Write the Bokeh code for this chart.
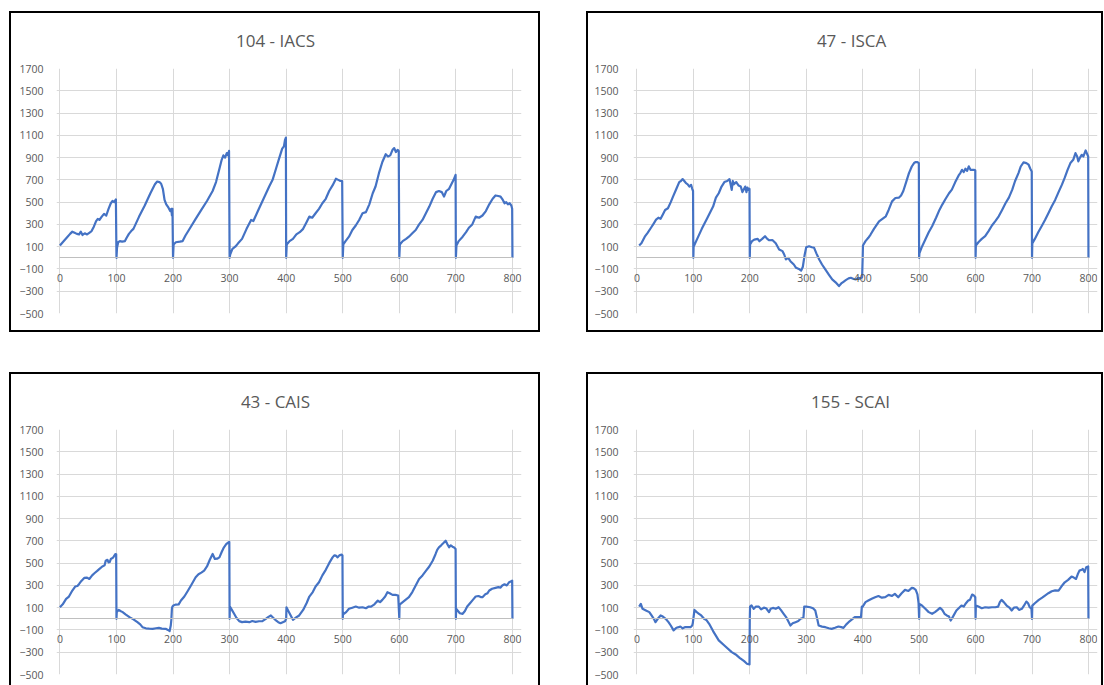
from bokeh.plotting import figure
from bokeh.models import Range1d
from bokeh.layouts import column, row
from bokeh.embed import file_html
from bokeh.resources import INLINE

# Axis ticks shared by all four panels
X_TICKS = [0, 100, 200, 300, 400, 500, 600, 700, 800]
Y_TICKS = [-500, -300, -100, 100, 300, 500, 700, 900, 1100, 1300, 1500, 1700]

TITLES = ["104 - IACS", "47 - ISCA", "43 - CAIS", "155 - SCAI"]

# 104 - IACS
iacs_x = [0, 5, 12, 18, 22, 26, 30, 34, 37, 40, 44, 48, 52, 56, 60, 64, 67, 70, 74, 78, 82, 86, 90, 93, 96, 99, 100,
          101, 103, 106, 110, 115, 118, 122, 126, 130, 140, 150, 160, 168, 172, 176, 179, 182, 185, 188, 192, 195, 197, 198, 199, 200,
          201, 205, 212, 217, 222, 228, 240, 250, 260, 270, 276, 282, 286, 289, 292, 295, 297, 299, 300,
          301, 305, 310, 315, 322, 330, 338, 342, 350, 360, 370, 376, 382, 388, 393, 396, 398, 399.5, 400,
          401, 406, 412, 418, 424, 430, 436, 441, 446, 452, 458, 464, 470, 476, 482, 488, 492, 496, 499, 500,
          501, 505, 511, 517, 523, 529, 535, 541, 547, 553, 558, 564, 570, 576, 580, 584, 588, 591, 594, 597, 599, 600,
          601, 606, 612, 617, 623, 629, 635, 641, 647, 653, 659, 665, 670, 675, 679, 683, 688, 692, 696, 699.5, 700,
          701, 705, 712, 718, 723, 729, 735, 741, 747, 753, 759, 765, 770, 775, 779, 783, 786, 789, 792, 795, 798, 799.5, 800]
iacs_y = [110, 140, 180, 215, 235, 225, 215, 210, 235, 205, 220, 210, 225, 240, 280, 330, 350, 340, 370, 395, 380, 440, 490, 510, 500, 525, 0,
          90, 140, 150, 145, 150, 180, 215, 240, 260, 370, 470, 580, 660, 685, 680, 665, 620, 520, 480, 450, 420, 440, 380, 440, 0,
          120, 140, 145, 150, 200, 250, 350, 430, 510, 600, 680, 800, 880, 920, 900, 940, 920, 960, 0,
          30, 80, 100, 130, 170, 260, 340, 330, 420, 530, 640, 700, 800, 900, 980, 1000, 1060, 1080, 0,
          120, 150, 170, 210, 230, 260, 320, 370, 360, 400, 440, 490, 530, 600, 650, 710, 700, 690, 690, 0,
          120, 150, 190, 250, 290, 340, 400, 410, 480, 580, 640, 760, 860, 930, 910, 920, 970, 985, 950, 970, 960, 0,
          120, 150, 170, 190, 220, 250, 300, 340, 400, 460, 530, 590, 600, 590, 550, 600, 620, 660, 700, 745, 0,
          110, 150, 190, 230, 270, 300, 370, 360, 380, 420, 480, 530, 560, 555, 550, 520, 490, 500, 480, 490, 470, 440, 0]

# 47 - ISCA
isca_x = [4, 8, 14, 19, 25, 30, 34, 38, 42, 46, 50, 55, 60, 64, 70, 75, 78, 81, 84, 87, 90, 93, 96, 98, 99.5, 100,
          100.5, 105, 115, 125, 135, 140, 145, 150, 155, 160, 164, 166, 168, 170, 172, 176, 180, 184, 187, 190, 192, 194, 196, 198, 199.5, 200,
          200.5, 204, 208, 214, 217, 222, 227, 231, 234, 240, 246, 252, 258, 261, 264, 268, 272, 278, 282, 287, 291, 294, 297, 300,
          305, 310, 314, 318, 323, 328, 332, 340, 346, 352, 358, 362, 366, 370, 375, 379, 384, 388, 392, 396, 399, 400,
          400.5, 405, 410, 414, 420, 429, 435, 441, 446, 452, 458, 464, 468, 472, 477, 482, 487, 491, 494, 497, 499.5, 500,
          500.5, 505, 511, 517, 523, 530, 536, 541, 547, 553, 558, 564, 570, 573, 576, 579, 582, 585, 588, 591, 594, 597, 599.5, 600,
          600.5, 605, 611, 617, 623, 629, 635, 641, 647, 653, 659, 665, 670, 676, 680, 685, 690, 694, 697, 699.5, 700,
          700.5, 705, 711, 717, 723, 729, 735, 741, 747, 753, 758, 763, 768, 773, 777, 780, 782, 785, 788, 791, 795, 797, 799.5, 800]
isca_y = [110, 130, 190, 224, 270, 310, 343, 360, 350, 390, 430, 445, 500, 550, 620, 680, 690, 707, 690, 670, 660, 640, 655, 620, 600, 0,
          100, 150, 260, 360, 460, 540, 580, 640, 680, 690, 707, 660, 610, 690, 660, 680, 650, 640, 590, 620, 640, 590, 630, 610, 620, 0,
          120, 150, 164, 170, 149, 170, 194, 170, 158, 160, 130, 75, 60, 30, -15, 0, -30, -60, -90, -100, -115, -80, 20, 95,
          104, 95, 90, 40, -15, -60, -90, -150, -194, -220, -254, -230, -215, -200, -185, -179, -190, -194, -180, -185, -175, 0,
          110, 150, 180, 209, 260, 328, 350, 373, 430, 507, 537, 540, 560, 600, 680, 761, 820, 851, 860, 860, 850, 0,
          40, 100, 164, 230, 284, 360, 430, 478, 530, 580, 612, 680, 740, 761, 790, 770, 800, 780, 821, 790, 791, 790, 785, 0,
          110, 140, 170, 194, 240, 290, 330, 373, 430, 490, 540, 612, 690, 761, 820, 857, 850, 836, 800, 776, 0,
          130, 170, 230, 284, 340, 400, 463, 520, 590, 657, 720, 790, 851, 880, 940, 910, 866, 900, 925, 910, 964, 940, 910, 0]

# 43 - CAIS
cais_x = [0, 5, 11, 16, 22, 27, 31, 34, 38, 43, 48, 52, 57, 61, 66, 70, 75, 79, 81, 84, 86, 88, 90, 94, 98, 99.5, 100,
          100.5, 104, 107, 111, 116, 123, 130, 137, 142, 146, 152, 158, 164, 170, 175, 180, 187, 191, 194, 196, 197, 198, 199, 200,
          200.5, 205, 210, 214, 220, 226, 233, 240, 245, 250, 255, 260, 265, 270, 272, 274, 278, 282, 286, 290, 294, 298, 299.5, 300,
          300.5, 304, 308, 312, 317, 322, 328, 335, 340, 346, 352, 358, 364, 368, 373, 377, 382, 386, 390, 394, 398, 400,
          400.5, 405, 408, 412, 417, 423, 430, 436, 441, 447, 452, 458, 464, 470, 476, 482, 485, 488, 491, 494, 498, 499.5, 500,
          500.5, 502, 506, 511, 517, 523, 529, 535, 541, 546, 550, 556, 562, 566, 570, 575, 579, 583, 588, 593, 598, 600,
          600.5, 606, 612, 617, 623, 629, 635, 641, 647, 653, 659, 664, 667, 670, 674, 678, 682, 685, 688, 691, 694, 697, 699.5, 700,
          700.5, 703, 707, 712, 716, 720, 725, 730, 735, 740, 744, 747, 752, 756, 759, 764, 770, 775, 779, 782, 786, 790, 794, 797, 799.5, 800]
cais_y = [104, 130, 179, 200, 254, 290, 295, 313, 340, 367, 370, 358, 390, 409, 430, 448, 470, 480, 522, 530, 507, 510, 537, 550, 582, 580, 0,
          60, 80, 70, 60, 40, 15, -5, -30, -50, -75, -85, -88, -90, -85, -81, -88, -90, -100, -110, -60, -10, 90, 110, 115,
          120, 128, 130, 164, 200, 250, 310, 373, 400, 415, 433, 470, 530, 582, 560, 537, 540, 552, 600, 642, 670, 687, 690, 0,
          110, 80, 45, 10, -21, -30, -25, -30, -20, -28, -22, -21, 0, 15, 30, 10, -15, -30, -39, -30, -21, 0,
          104, 60, 30, -9, 10, 30, 80, 140, 200, 240, 290, 328, 390, 440, 500, 552, 570, 567, 552, 570, 576, 570, 0,
          60, 45, 60, 90, 100, 110, 100, 104, 95, 110, 110, 130, 164, 150, 170, 200, 239, 230, 215, 215, 209, 0,
          128, 150, 175, 194, 240, 300, 358, 390, 430, 470, 522, 580, 620, 642, 660, 680, 701, 670, 642, 660, 648, 640, 627, 0,
          90, 75, 50, 45, 70, 110, 140, 170, 200, 205, 195, 194, 220, 230, 254, 270, 278, 285, 280, 299, 310, 300, 328, 335, 343, 0]

# 155 - SCAI
scai_x = [4, 7, 10, 16, 22, 26, 30, 33, 37, 42, 46, 51, 56, 60, 65, 70, 74, 77, 81, 85, 89, 95, 98, 99,
          102, 106, 110, 114, 119, 123, 128, 135, 145, 155, 168, 175, 182, 190, 195, 199.5, 200,
          200.5, 203, 207, 211, 216, 220, 225, 229, 234, 237, 241, 246, 251, 255, 260, 265, 270, 272, 276, 281, 286, 290, 295, 296.5,
          300, 307, 312, 316, 319, 322, 328, 334, 340, 345, 351, 357, 362, 366, 371, 375, 380, 386, 392, 397, 398.5,
          400, 405, 410, 416, 422, 428, 434, 440, 446, 452, 457, 463, 469, 475, 481, 487, 490, 494, 497, 499, 500,
          500.5, 505, 511, 517, 523, 528, 533, 537, 541, 545, 549, 553, 556, 560, 566, 571, 575, 579, 583, 587, 590, 594, 597, 599.5, 600,
          600.5, 605, 611, 617, 623, 629, 635, 640, 643, 646, 650, 655, 660, 664, 668, 673, 677, 682, 686, 690, 693, 696, 699, 700,
          700.5, 705, 712, 718, 723, 729, 735, 741, 747, 752, 758, 764, 770, 774, 778, 781, 784, 788, 790, 793, 796, 799.5, 800]
scai_y = [110, 134, 90, 75, 60, 30, 0, -30, 0, 30, 20, 0, -30, -60, -104, -80, -75, -69, -85, -75, -75, -75, -60, -40,
          80, 60, 45, 30, 0, -10, -45, -110, -194, -240, -299, -320, -350, -380, -403, -410, 0,
          110, 120, 90, 110, 110, 85, 100, 95, 60, 90, 98, 90, 104, 80, 45, 10, -40, -60, -40, -30, -20, 0, 9, 110,
          110, 104, 95, 75, 10, -60, -70, -75, -85, -90, -80, -69, -75, -81, -50, -30, -10, 15, 15, 15, 110,
          110, 150, 164, 180, 194, 205, 190, 194, 215, 205, 224, 194, 230, 260, 250, 278, 275, 260, 220, 140, 0,
          134, 120, 90, 60, 45, 60, 80, 98, 80, 45, 30, 20, -15, 20, 75, 100, 119, 110, 140, 164, 170, 218, 210, 194, 0,
          119, 110, 95, 104, 100, 104, 104, 110, 150, 170, 150, 119, 100, 75, 100, 104, 80, 90, 120, 155, 140, 104, 90, 0,
          119, 140, 170, 190, 209, 230, 248, 255, 254, 290, 328, 350, 379, 370, 358, 400, 433, 440, 448, 420, 463, 470, 0]

TEXT_GREY = "#595959"
GRID_GREY = "#d9d9d9"
AXIS_GREY = "#bfbfbf"
LINE_BLUE = "#4472C4"
FONT = "Open Sans"


def make_panel(title, xs, ys, width, height, border_left, border_right, border_top, border_bottom,
               margin, title_offset, ylabel_standoff):
    # a little room either side of 0..800 so the end tick labels are not cut off
    p = figure(width=width, height=height,
               x_range=Range1d(-6, 816), y_range=Range1d(-500, 1700),
               output_backend="svg", toolbar_location=None,
               min_border_left=border_left, min_border_right=border_right,
               min_border_top=border_top, min_border_bottom=border_bottom)
    p.margin = margin
    p.styles = {"outline": "2px solid #000000"}
    p.outline_line_color = None
    p.background_fill_color = "#ffffff"
    p.border_fill_color = "#ffffff"

    p.title.text = title
    p.title.align = "left"
    p.title.offset = title_offset
    p.title.vertical_align = "top"
    p.title.standoff = 30
    p.title.text_font = FONT
    p.title.text_font_size = "17px"
    p.title.text_font_style = "normal"
    p.title.text_color = TEXT_GREY

    # horizontal axis runs along y = 0, labels sit just under it
    p.xaxis.ticker = X_TICKS
    p.xaxis.fixed_location = 0
    p.xaxis.bounds = (0, 800)
    p.xaxis.axis_line_color = AXIS_GREY
    p.xaxis.axis_line_width = 1
    p.xaxis.major_tick_line_color = None
    p.xaxis.minor_tick_line_color = None
    p.xaxis.major_label_standoff = 10
    p.xaxis.major_label_text_font = FONT
    p.xaxis.major_label_text_font_size = "10.5px"
    p.xaxis.major_label_text_color = TEXT_GREY

    p.yaxis.ticker = Y_TICKS
    p.yaxis.axis_line_color = None
    p.yaxis.major_tick_line_color = None
    p.yaxis.minor_tick_line_color = None
    p.yaxis.major_label_standoff = ylabel_standoff
    p.yaxis.major_label_text_font = FONT
    p.yaxis.major_label_text_font_size = "10.5px"
    p.yaxis.major_label_text_color = TEXT_GREY

    p.xgrid.ticker = X_TICKS
    p.ygrid.ticker = Y_TICKS
    p.ygrid.bounds = (0, 800)
    p.xgrid.grid_line_color = GRID_GREY
    p.ygrid.grid_line_color = GRID_GREY
    p.xgrid.grid_line_width = 1
    p.ygrid.grid_line_width = 1

    p.line(xs, ys, line_color=LINE_BLUE, line_width=2.2, line_join="round")
    return p


p1 = make_panel(TITLES[0], iacs_x, iacs_y, 527, 317, 45, 17, 55, 17, (13, 0, 0, 11), 179.5, 7)
p2 = make_panel(TITLES[1], isca_x, isca_y, 513, 317, 45, 4, 55, 17, (13, 0, 0, 50), 183.4, 9)
p3 = make_panel(TITLES[2], cais_x, cais_y, 527, 311, 45, 17, 54, 11, (44, 0, 0, 11), 184.4, 7)
p4 = make_panel(TITLES[3], scai_x, scai_y, 513, 311, 45, 4, 54, 11, (44, 0, 0, 50), 177.5, 9)

layout = column(row(p1, p2), row(p3, p4))

with open("out.html", "w") as f:
    f.write(file_html(layout, INLINE, title="IACS / ISCA / CAIS / SCAI"))
